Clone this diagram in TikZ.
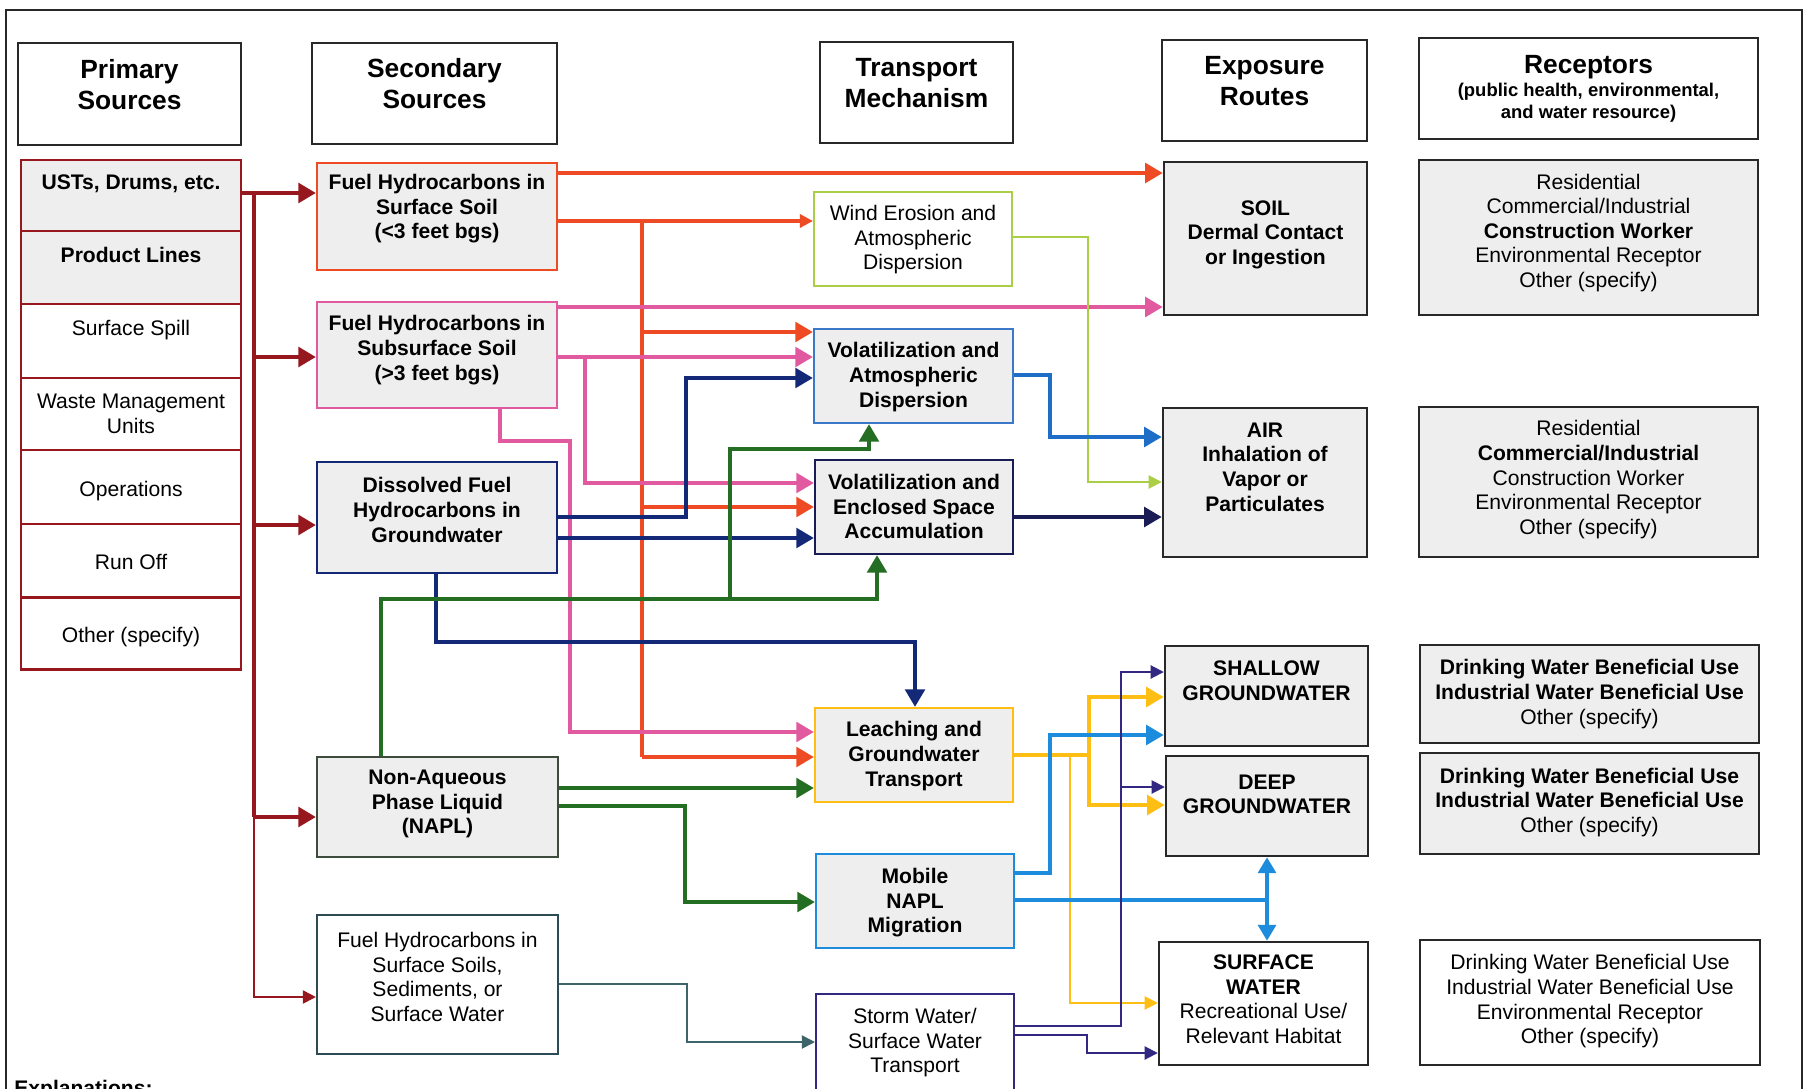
\documentclass[tikz,border=0pt]{standalone}
\usepackage{fontspec}
\setmainfont{Liberation Sans}
\usetikzlibrary{
  arrows.meta,
  fit
}

\definecolor{srcRed}{RGB}{150,24,30}
\definecolor{soilOrange}{RGB}{238,74,36}
\definecolor{subPink}{RGB}{225,90,160}
\definecolor{gwNavy}{RGB}{20,40,120}
\definecolor{naplGreen}{RGB}{36,110,36}
\definecolor{naplEdge}{RGB}{60,75,60}
\definecolor{slateEdge}{RGB}{45,75,85}
\definecolor{slateGreen}{RGB}{60,100,105}
\definecolor{windGreen}{RGB}{170,206,70}
\definecolor{atmBlue}{RGB}{30,110,200}
\definecolor{atmEdge}{RGB}{60,120,200}
\definecolor{encNavy}{RGB}{25,28,85}
\definecolor{leachGold}{RGB}{255,190,20}
\definecolor{mobBlue}{RGB}{30,140,220}
\definecolor{stormPurple}{RGB}{50,40,130}
\definecolor{boxGray}{RGB}{238,238,238}
\definecolor{frameGray}{RGB}{40,40,40}

\newcommand{\txt}{\fontsize{12}{14}\selectfont}
\newcommand{\subhead}{\fontsize{10.5}{12}\selectfont}
% empty row after / before the text moves it up / down in its box
\newcommand{\liftby}[1]{\\[#1]\mbox{}}
\newcommand{\dropby}[1]{\mbox{}\\[#1]}

\begin{document}
\begin{tikzpicture}[
    x=0.02cm, y=-0.02cm,
    font=\txt,
    headNode/.style={draw=frameGray, line width=1.4pt, fill=white, inner sep=0pt, align=center, font=\bfseries\fontsize{15}{17.5}\selectfont},
    cellNode/.style={draw=srcRed, line width=1.7pt, fill=white, inner sep=0pt, align=center, font=\txt},
    srcNode/.style={draw, line width=1.2pt, fill=boxGray, inner sep=0pt, align=center, font=\bfseries\txt},
    plainNode/.style={draw, line width=1.2pt, fill=white, inner sep=0pt, align=center, font=\txt},
    routeNode/.style={draw=frameGray, line width=1.4pt, fill=boxGray, inner sep=0pt, align=center, font=\bfseries\txt},
    recNode/.style={draw=frameGray, line width=1.4pt, fill=boxGray, inner sep=0pt, align=center, font=\txt},
    bigTip/.style={-{Triangle[length=10pt,width=11pt]}},
    smallTip/.style={-{Triangle[length=7.5pt,width=7.5pt]}},
    thickLine/.style={line width=2.4pt, draw=#1},
    midLine/.style={line width=1.8pt, draw=#1},
    thinLine/.style={line width=1.1pt, draw=#1},
  ]
    \fill[white] (0,0) rectangle (1811,1088);
    \useasboundingbox (0,0) rectangle (1811,1088);
    \draw[line width=1.3pt, frameGray] (6,10) rectangle (1802,1120);

    % column heads
    \node[headNode, fit={(18,43) (241,145)}] (hPrim) {Primary\\Sources};
    \node[headNode, fit={(312,43) (557,144)}] (hSec) {Secondary\\Sources};
    \node[headNode, fit={(820,42) (1013,143)}] (hTrans) {Transport\\Mechanism};
    \node[headNode, fit={(1162,40) (1367,141)}] (hExpo) {Exposure\\Routes};
    \node[headNode, fit={(1419,38) (1758,139)}] (hRecep) {\dropby{-7pt}Receptors\\[-4.5pt]{\subhead (public health, environmental,}\\[-5pt]{\subhead and water resource)}};

    % primary sources
    \node[cellNode, fill=boxGray, font=\bfseries\txt, fit={(21,160) (241,231)}] (usts) {USTs, Drums, etc.\liftby{-7pt}};
    \node[cellNode, fill=boxGray, font=\bfseries\txt, fit={(21,231) (241,304)}] (prod) {Product Lines\liftby{-8pt}};
    \node[cellNode, fit={(21,304) (241,378)}] (spill) {Surface Spill\liftby{-8pt}};
    \node[cellNode, fit={(21,378) (241,450)}] (waste) {\dropby{-6pt}Waste Management\\Units};
    \node[cellNode, fit={(21,450) (241,524)}] (ops) {\dropby{-1.2pt}Operations};
    \node[cellNode, fit={(21,524) (241,597)}] (runoff) {\dropby{-3.8pt}Run Off};
    \node[cellNode, fit={(21,597) (241,669)}] (other) {\dropby{-1.2pt}Other (specify)};

    % secondary sources
    \node[srcNode, draw=soilOrange, fit={(317,163) (557,270)}] (surf) {Fuel Hydrocarbons in\\Surface Soil\\(<3 feet bgs)};
    \node[srcNode, draw=subPink, fit={(317,302) (557,408)}] (sub) {\dropby{-10.8pt}Fuel Hydrocarbons in\\Subsurface Soil\\(>3 feet bgs)};
    \node[srcNode, draw=gwNavy, fit={(317,462) (557,573)}] (gw) {Dissolved Fuel\\Hydrocarbons in\\Groundwater};
    \node[srcNode, draw=naplEdge, fit={(317,757) (558,857)}] (napl) {\dropby{-9pt}Non-Aqueous\\Phase Liquid\\(NAPL)};
    \node[plainNode, draw=slateEdge, fit={(317,915) (558,1054)}] (soils) {Fuel Hydrocarbons in\\Surface Soils,\\Sediments, or\\Surface Water};

    % transport mechanisms
    \node[plainNode, draw=windGreen, fit={(814,192) (1012,286)}] (wind) {\dropby{-4.6pt}Wind Erosion and\\Atmospheric\\Dispersion};
    \node[srcNode, draw=atmEdge, fit={(814,329) (1013,423)}] (volatm) {\dropby{-4.1pt}Volatilization and\\Atmospheric\\Dispersion};
    \node[srcNode, draw=encNavy, fit={(815,460) (1013,554)}] (volenc) {\dropby{-5.9pt}Volatilization and\\Enclosed Space\\Accumulation};
    \node[srcNode, draw=leachGold, fit={(815,708) (1013,802)}] (leach) {\dropby{-4.1pt}Leaching and\\Groundwater\\Transport};
    \node[srcNode, draw=mobBlue, fit={(816,854) (1014,948)}] (mobile) {\dropby{-3.3pt}Mobile\\NAPL\\Migration};
    \node[plainNode, draw=stormPurple, fit={(816,994) (1014,1090)}] (storm) {\dropby{-4.6pt}Storm Water/\\Surface Water\\Transport};

    % exposure routes
    \node[routeNode, fit={(1164,162) (1367,315)}] (soil) {\dropby{-10.2pt}SOIL\\Dermal Contact\\or Ingestion};
    \node[routeNode, fit={(1163,408) (1367,557)}] (air) {AIR\\Inhalation of\\Vapor or\\Particulates\liftby{-4.6pt}};
    \node[routeNode, fit={(1165,646) (1368,746)}] (shallow) {SHALLOW\\GROUNDWATER\liftby{-5.2pt}};
    \node[routeNode, fit={(1166,756) (1368,856)}] (deep) {DEEP\\GROUNDWATER\liftby{-9pt}};
    \node[routeNode, fill=white, font=\txt, fit={(1159,942) (1368,1065)}] (surfw) {\dropby{-10.5pt}\textbf{SURFACE}\\\textbf{WATER}\\Recreational Use/\\Relevant Habitat};

    % receptors
    \node[recNode, fit={(1419,160) (1758,315)}] (rSoil) {\dropby{-10.6pt}Residential\\Commercial/Industrial\\\textbf{Construction Worker}\\Environmental Receptor\\Other (specify)};
    \node[recNode, fit={(1419,407) (1758,557)}] (rAir) {\dropby{-7.9pt}Residential\\\textbf{Commercial/Industrial}\\Construction Worker\\Environmental Receptor\\Other (specify)};
    \node[recNode, fit={(1420,645) (1759,743)}] (rShallow) {\dropby{-5.2pt}\textbf{Drinking Water Beneficial Use}\\\textbf{Industrial Water Beneficial Use}\\Other (specify)};
    \node[recNode, fit={(1420,753) (1759,854)}] (rDeep) {\dropby{-6.5pt}\textbf{Drinking Water Beneficial Use}\\\textbf{Industrial Water Beneficial Use}\\Other (specify)};
    \node[recNode, fill=white, fit={(1420,940) (1760,1065)}] (rSurfw) {\dropby{-6.7pt}Drinking Water Beneficial Use\\Industrial Water Beneficial Use\\Environmental Receptor\\Other (specify)};

    \node[anchor=north west, inner sep=0pt, font=\bfseries\txt] (expl) at (14,1080) {Explanations:};

    % primary to secondary
    \coordinate (trunk) at (254,193);
    \draw[line width=2.8pt, srcRed, bigTip] (usts.east|-trunk) -- (surf.west|-trunk);
    \draw[line width=2.8pt, srcRed] (trunk) -- (trunk|-0,817);
    \draw[line width=2.8pt, srcRed, bigTip] (trunk|-0,357) -- (sub.west|-0,357);
    \draw[line width=2.8pt, srcRed, bigTip] (trunk|-0,525) -- (gw.west|-0,525);
    \draw[line width=2.8pt, srcRed, bigTip] (trunk|-0,817) -- (napl.west|-0,817);
    \draw[thinLine=srcRed, smallTip] (trunk|-0,817) -- (trunk|-0,997) -- (soils.west|-0,997);

    % surface soil
    \coordinate (orangeBus) at (642,221);
    \draw[thickLine=soilOrange, bigTip] (surf.east|-0,173) -- (soil.west|-0,173);
    \draw[midLine=soilOrange, smallTip] (surf.east|-orangeBus) -- (wind.west|-orangeBus);
    \draw[midLine=soilOrange] (orangeBus) -- (orangeBus|-0,757);
    \draw[thickLine=soilOrange, bigTip] (orangeBus|-0,332) -- (volatm.west|-0,332);
    \draw[thickLine=soilOrange, bigTip] (orangeBus|-0,507) -- (volenc.west|-0,507);
    \draw[thickLine=soilOrange, bigTip] (orangeBus|-0,757) -- (leach.west|-0,757);

    % subsurface soil
    \coordinate (pinkBus) at (585,357);
    \draw[thickLine=subPink, bigTip] (sub.east|-0,307) -- (soil.west|-0,307);
    \draw[thickLine=subPink, bigTip] (sub.east|-pinkBus) -- (volatm.west|-pinkBus);
    \draw[thickLine=subPink, bigTip] (pinkBus) -- (pinkBus|-0,483) -- (volenc.west|-0,483);
    \draw[thickLine=subPink, bigTip] (500,0|-sub.south) -- (500,441) -- (570,441) -- (570,732) -- (leach.west|-0,732);

    % groundwater
    \draw[thickLine=gwNavy, bigTip] (gw.east|-0,517) -- (686,517) -- (686,378) -- (volatm.west|-0,378);
    \draw[thickLine=gwNavy, bigTip] (gw.east|-0,538) -- (volenc.west|-0,538);
    \draw[thickLine=gwNavy, bigTip] (436,0|-gw.south) -- (436,642) -- (915,642) -- (915,0|-leach.north);

    % NAPL
    \coordinate (greenBus) at (730,599);
    \draw[thickLine=naplGreen, bigTip] (381,0|-napl.north) -- (381,599) -- (877,599) -- (877,0|-volenc.south);
    \draw[thickLine=naplGreen, bigTip] (greenBus) -- (730,449) -- (869,449) -- (869,0|-volatm.south);
    \draw[thickLine=naplGreen, bigTip] (napl.east|-0,788) -- (leach.west|-0,788);
    \draw[thickLine=naplGreen, bigTip] (napl.east|-0,806) -- (685,806) -- (685,902) -- (mobile.west|-0,902);

    % transport to exposure
    \draw[thinLine=windGreen, smallTip] (wind.east|-0,237) -- (1088,237) -- (1088,482) -- (air.west|-0,482);
    \draw[thickLine=atmBlue, bigTip] (volatm.east|-0,375) -- (1050,375) -- (1050,437) -- (air.west|-0,437);
    \draw[thickLine=encNavy, bigTip] (volenc.east|-0,517) -- (air.west|-0,517);

    \coordinate (leachBus) at (1089,755);
    \draw[thickLine=leachGold] (leach.east|-leachBus) -- (leachBus);
    \draw[thickLine=leachGold, bigTip] (leachBus) -- (leachBus|-0,697) -- (shallow.west|-0,697);
    \draw[thickLine=leachGold, bigTip] (leachBus) -- (leachBus|-0,805) -- (deep.west|-0,805);
    \draw[thinLine=leachGold, smallTip] (1070,755) -- (1070,1003) -- (surfw.west|-0,1003);

    \coordinate (mobileBus) at (1267,900);
    \draw[thickLine=mobBlue, bigTip] (mobile.east|-0,873) -- (1050,873) -- (1050,735) -- (shallow.west|-0,735);
    \draw[thickLine=mobBlue] (mobile.east|-mobileBus) -- (mobileBus);
    \draw[thickLine=mobBlue, {Triangle[length=9pt,width=10pt]}-{Triangle[length=9pt,width=10pt]}] (mobileBus|-deep.south) -- (mobileBus|-surfw.north);

    \draw[thinLine=stormPurple, smallTip] (storm.east|-0,1026) -- (1121,1026) -- (1121,672) -- (shallow.west|-0,672);
    \draw[thinLine=stormPurple, smallTip] (1121,787) -- (deep.west|-0,787);
    \draw[thinLine=stormPurple, smallTip] (storm.east|-0,1035) -- (1087,1035) -- (1087,1053) -- (surfw.west|-0,1053);

    \draw[thinLine=slateGreen, smallTip] (soils.east|-0,984) -- (687,984) -- (687,1042) -- (storm.west|-0,1042);
\end{tikzpicture}
\end{document}
